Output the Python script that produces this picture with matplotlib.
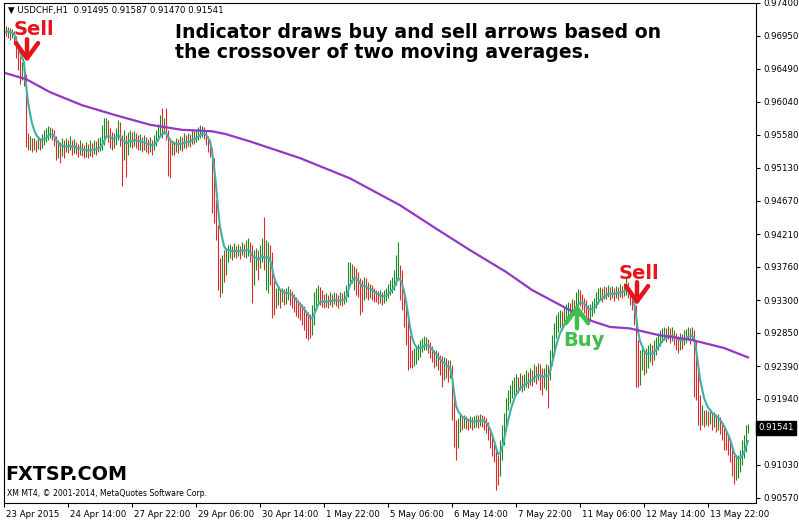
import matplotlib
matplotlib.use("Agg")
import matplotlib.pyplot as plt
import matplotlib.transforms as mtransforms
import numpy as np
import pandas as pd

# USDCHF H1 bars, 23 Apr - 14 May 2015
first_open = 0.9703
closes = [
    0.9700, 0.9703, 0.9697, 0.9698, 0.9692, 0.9672, 0.9661, 0.9647, 0.9650, 0.9639,
    0.9551, 0.9544, 0.9548, 0.9540, 0.9544, 0.9541, 0.9547, 0.9543, 0.9551, 0.9554,
    0.9558, 0.9562, 0.9565, 0.9560, 0.9551, 0.9537, 0.9541, 0.9533, 0.9544, 0.9537,
    0.9544, 0.9540, 0.9547, 0.9537, 0.9543, 0.9538, 0.9534, 0.9541, 0.9537, 0.9533,
    0.9537, 0.9534, 0.9540, 0.9536, 0.9541, 0.9538, 0.9543, 0.9544, 0.9551, 0.9562,
    0.9572, 0.9558, 0.9554, 0.9547, 0.9551, 0.9558, 0.9567, 0.9551, 0.9537, 0.9548,
    0.9537, 0.9551, 0.9555, 0.9548, 0.9554, 0.9551, 0.9547, 0.9549, 0.9544, 0.9548,
    0.9544, 0.9541, 0.9545, 0.9540, 0.9548, 0.9554, 0.9560, 0.9567, 0.9565, 0.9570,
    0.9558, 0.9544, 0.9537, 0.9543, 0.9540, 0.9545, 0.9543, 0.9548, 0.9545, 0.9551,
    0.9548, 0.9552, 0.9549, 0.9555, 0.9554, 0.9558, 0.9560, 0.9563, 0.9565, 0.9560,
    0.9554, 0.9544, 0.9537, 0.9502, 0.9461, 0.9427, 0.9378, 0.9365, 0.9382, 0.9374,
    0.9388, 0.9396, 0.9399, 0.9394, 0.9400, 0.9396, 0.9399, 0.9395, 0.9402, 0.9398,
    0.9399, 0.9402, 0.9392, 0.9378, 0.9382, 0.9388, 0.9381, 0.9392, 0.9399, 0.9382,
    0.9388, 0.9392, 0.9382, 0.9344, 0.9330, 0.9334, 0.9337, 0.9333, 0.9338, 0.9336,
    0.9337, 0.9340, 0.9336, 0.9333, 0.9327, 0.9323, 0.9319, 0.9316, 0.9313, 0.9309,
    0.9305, 0.9300, 0.9296, 0.9302, 0.9323, 0.9333, 0.9341, 0.9336, 0.9330, 0.9327,
    0.9330, 0.9327, 0.9331, 0.9329, 0.9333, 0.9330, 0.9327, 0.9331, 0.9330, 0.9333,
    0.9337, 0.9365, 0.9374, 0.9369, 0.9371, 0.9360, 0.9351, 0.9344, 0.9337, 0.9351,
    0.9347, 0.9341, 0.9344, 0.9340, 0.9337, 0.9336, 0.9333, 0.9334, 0.9331, 0.9336,
    0.9338, 0.9344, 0.9347, 0.9351, 0.9358, 0.9369, 0.9374, 0.9358, 0.9337, 0.9316,
    0.9296, 0.9268, 0.9247, 0.9244, 0.9250, 0.9254, 0.9258, 0.9264, 0.9268, 0.9271,
    0.9272, 0.9267, 0.9261, 0.9254, 0.9247, 0.9250, 0.9244, 0.9240, 0.9236, 0.9239,
    0.9236, 0.9231, 0.9236, 0.9192, 0.9151, 0.9137, 0.9158, 0.9164, 0.9160, 0.9164,
    0.9162, 0.9159, 0.9163, 0.9160, 0.9162, 0.9164, 0.9163, 0.9166, 0.9164, 0.9162,
    0.9158, 0.9148, 0.9137, 0.9126, 0.9116, 0.9102, 0.9095, 0.9123, 0.9144, 0.9164,
    0.9185, 0.9195, 0.9203, 0.9209, 0.9213, 0.9217, 0.9213, 0.9220, 0.9215, 0.9218,
    0.9222, 0.9220, 0.9225, 0.9222, 0.9231, 0.9227, 0.9233, 0.9225, 0.9220, 0.9224,
    0.9231, 0.9222, 0.9247, 0.9268, 0.9286, 0.9296, 0.9300, 0.9305, 0.9302, 0.9309,
    0.9313, 0.9319, 0.9316, 0.9323, 0.9319, 0.9330, 0.9337, 0.9333, 0.9326, 0.9322,
    0.9316, 0.9309, 0.9313, 0.9319, 0.9323, 0.9330, 0.9336, 0.9340, 0.9337, 0.9341,
    0.9340, 0.9344, 0.9338, 0.9341, 0.9337, 0.9342, 0.9340, 0.9344, 0.9341, 0.9345,
    0.9347, 0.9341, 0.9333, 0.9326, 0.9309, 0.9261, 0.9233, 0.9240, 0.9250, 0.9244,
    0.9247, 0.9254, 0.9258, 0.9254, 0.9264, 0.9268, 0.9275, 0.9279, 0.9282, 0.9284,
    0.9282, 0.9286, 0.9280, 0.9283, 0.9278, 0.9273, 0.9269, 0.9275, 0.9272, 0.9278,
    0.9282, 0.9286, 0.9280, 0.9284, 0.9268, 0.9227, 0.9192, 0.9167, 0.9175, 0.9164,
    0.9170, 0.9167, 0.9171, 0.9164, 0.9167, 0.9162, 0.9164, 0.9158, 0.9151, 0.9144,
    0.9137, 0.9130, 0.9123, 0.9106, 0.9095, 0.9102, 0.9106, 0.9112, 0.9123, 0.9130,
    0.91495, 0.91541,
]
highs = [
    0.9708, 0.9707, 0.9705, 0.9704, 0.9701, 0.9694, 0.9678, 0.9667, 0.9658, 0.9656,
    0.9642, 0.9560, 0.9556, 0.9554, 0.9554, 0.9551, 0.9556, 0.9554, 0.9559, 0.9565,
    0.9567, 0.9570, 0.9569, 0.9567, 0.9565, 0.9556, 0.9551, 0.9548, 0.9554, 0.9551,
    0.9554, 0.9551, 0.9556, 0.9551, 0.9552, 0.9548, 0.9545, 0.9551, 0.9547, 0.9544,
    0.9548, 0.9545, 0.9551, 0.9547, 0.9551, 0.9549, 0.9554, 0.9555, 0.9572, 0.9581,
    0.9581, 0.9578, 0.9567, 0.9562, 0.9560, 0.9567, 0.9578, 0.9576, 0.9558, 0.9565,
    0.9558, 0.9562, 0.9565, 0.9562, 0.9563, 0.9560, 0.9558, 0.9559, 0.9555, 0.9558,
    0.9555, 0.9552, 0.9555, 0.9551, 0.9558, 0.9565, 0.9573, 0.9585, 0.9595, 0.9581,
    0.9595, 0.9565, 0.9554, 0.9551, 0.9549, 0.9554, 0.9552, 0.9556, 0.9555, 0.9560,
    0.9558, 0.9560, 0.9559, 0.9565, 0.9563, 0.9566, 0.9569, 0.9572, 0.9570, 0.9569,
    0.9565, 0.9556, 0.9551, 0.9540, 0.9526, 0.9468, 0.9434, 0.9388, 0.9392, 0.9399,
    0.9402, 0.9406, 0.9407, 0.9405, 0.9409, 0.9405, 0.9407, 0.9405, 0.9410, 0.9407,
    0.9413, 0.9416, 0.9410, 0.9406, 0.9399, 0.9402, 0.9399, 0.9406, 0.9416, 0.9445,
    0.9413, 0.9410, 0.9406, 0.9396, 0.9358, 0.9347, 0.9347, 0.9344, 0.9347, 0.9345,
    0.9347, 0.9349, 0.9345, 0.9342, 0.9338, 0.9334, 0.9330, 0.9327, 0.9325, 0.9322,
    0.9316, 0.9313, 0.9311, 0.9323, 0.9341, 0.9347, 0.9351, 0.9348, 0.9344, 0.9338,
    0.9340, 0.9337, 0.9341, 0.9338, 0.9341, 0.9340, 0.9337, 0.9341, 0.9340, 0.9342,
    0.9351, 0.9382, 0.9382, 0.9380, 0.9377, 0.9374, 0.9369, 0.9360, 0.9358, 0.9362,
    0.9360, 0.9355, 0.9352, 0.9351, 0.9347, 0.9344, 0.9342, 0.9344, 0.9341, 0.9344,
    0.9347, 0.9352, 0.9358, 0.9362, 0.9371, 0.9392, 0.9410, 0.9378, 0.9371, 0.9344,
    0.9330, 0.9302, 0.9282, 0.9261, 0.9264, 0.9267, 0.9269, 0.9275, 0.9278, 0.9280,
    0.9279, 0.9276, 0.9272, 0.9267, 0.9261, 0.9261, 0.9258, 0.9254, 0.9253, 0.9251,
    0.9250, 0.9247, 0.9247, 0.9240, 0.9195, 0.9164, 0.9167, 0.9173, 0.9170, 0.9171,
    0.9170, 0.9167, 0.9170, 0.9169, 0.9170, 0.9171, 0.9171, 0.9173, 0.9171, 0.9170,
    0.9167, 0.9162, 0.9153, 0.9142, 0.9133, 0.9123, 0.9116, 0.9137, 0.9158, 0.9174,
    0.9195, 0.9206, 0.9213, 0.9220, 0.9224, 0.9228, 0.9224, 0.9229, 0.9227, 0.9228,
    0.9233, 0.9231, 0.9236, 0.9233, 0.9242, 0.9239, 0.9243, 0.9242, 0.9236, 0.9236,
    0.9242, 0.9240, 0.9261, 0.9282, 0.9298, 0.9309, 0.9313, 0.9316, 0.9315, 0.9322,
    0.9325, 0.9327, 0.9326, 0.9331, 0.9330, 0.9341, 0.9345, 0.9344, 0.9338, 0.9333,
    0.9330, 0.9323, 0.9325, 0.9329, 0.9333, 0.9341, 0.9347, 0.9348, 0.9347, 0.9349,
    0.9348, 0.9351, 0.9348, 0.9349, 0.9347, 0.9349, 0.9348, 0.9352, 0.9349, 0.9353,
    0.9362, 0.9355, 0.9347, 0.9340, 0.9333, 0.9323, 0.9275, 0.9261, 0.9264, 0.9261,
    0.9264, 0.9268, 0.9271, 0.9268, 0.9275, 0.9279, 0.9284, 0.9289, 0.9291, 0.9293,
    0.9291, 0.9294, 0.9291, 0.9293, 0.9289, 0.9284, 0.9280, 0.9284, 0.9283, 0.9289,
    0.9290, 0.9293, 0.9291, 0.9293, 0.9289, 0.9275, 0.9233, 0.9199, 0.9185, 0.9178,
    0.9178, 0.9177, 0.9178, 0.9175, 0.9175, 0.9173, 0.9173, 0.9169, 0.9162, 0.9158,
    0.9151, 0.9142, 0.9137, 0.9127, 0.9116, 0.9116, 0.9117, 0.9123, 0.9137, 0.9144,
    0.9158, 0.91587,
]
lows = [
    0.9694, 0.9692, 0.9689, 0.9692, 0.9683, 0.9664, 0.9647, 0.9628, 0.9634, 0.9625,
    0.9541, 0.9537, 0.9537, 0.9534, 0.9537, 0.9534, 0.9538, 0.9537, 0.9540, 0.9544,
    0.9548, 0.9551, 0.9554, 0.9551, 0.9543, 0.9523, 0.9526, 0.9519, 0.9529, 0.9526,
    0.9534, 0.9533, 0.9537, 0.9530, 0.9533, 0.9531, 0.9527, 0.9530, 0.9529, 0.9526,
    0.9527, 0.9526, 0.9529, 0.9527, 0.9531, 0.9530, 0.9534, 0.9536, 0.9537, 0.9544,
    0.9554, 0.9548, 0.9540, 0.9537, 0.9540, 0.9544, 0.9551, 0.9543, 0.9487, 0.9523,
    0.9500, 0.9530, 0.9541, 0.9540, 0.9543, 0.9540, 0.9537, 0.9537, 0.9534, 0.9537,
    0.9534, 0.9531, 0.9534, 0.9530, 0.9537, 0.9543, 0.9549, 0.9555, 0.9554, 0.9559,
    0.9551, 0.9501, 0.9498, 0.9530, 0.9530, 0.9534, 0.9533, 0.9537, 0.9536, 0.9540,
    0.9540, 0.9543, 0.9541, 0.9545, 0.9545, 0.9548, 0.9551, 0.9554, 0.9555, 0.9552,
    0.9544, 0.9534, 0.9527, 0.9450, 0.9436, 0.9413, 0.9344, 0.9334, 0.9340, 0.9355,
    0.9365, 0.9382, 0.9388, 0.9385, 0.9389, 0.9388, 0.9391, 0.9387, 0.9392, 0.9389,
    0.9388, 0.9391, 0.9382, 0.9326, 0.9351, 0.9371, 0.9358, 0.9374, 0.9382, 0.9371,
    0.9344, 0.9340, 0.9351, 0.9305, 0.9309, 0.9319, 0.9323, 0.9319, 0.9327, 0.9323,
    0.9325, 0.9330, 0.9323, 0.9319, 0.9313, 0.9308, 0.9305, 0.9302, 0.9296, 0.9289,
    0.9278, 0.9275, 0.9278, 0.9282, 0.9296, 0.9316, 0.9327, 0.9323, 0.9320, 0.9319,
    0.9320, 0.9319, 0.9323, 0.9320, 0.9325, 0.9322, 0.9319, 0.9323, 0.9322, 0.9325,
    0.9327, 0.9334, 0.9355, 0.9353, 0.9344, 0.9337, 0.9334, 0.9309, 0.9313, 0.9330,
    0.9333, 0.9330, 0.9333, 0.9330, 0.9327, 0.9327, 0.9325, 0.9326, 0.9323, 0.9326,
    0.9329, 0.9333, 0.9337, 0.9340, 0.9344, 0.9351, 0.9358, 0.9330, 0.9316, 0.9293,
    0.9268, 0.9233, 0.9236, 0.9236, 0.9239, 0.9242, 0.9247, 0.9251, 0.9258, 0.9261,
    0.9261, 0.9257, 0.9250, 0.9244, 0.9236, 0.9239, 0.9233, 0.9227, 0.9210, 0.9220,
    0.9222, 0.9217, 0.9222, 0.9164, 0.9127, 0.9109, 0.9126, 0.9148, 0.9151, 0.9153,
    0.9152, 0.9151, 0.9153, 0.9151, 0.9153, 0.9155, 0.9153, 0.9156, 0.9155, 0.9151,
    0.9146, 0.9137, 0.9126, 0.9115, 0.9106, 0.9068, 0.9075, 0.9088, 0.9109, 0.9130,
    0.9153, 0.9178, 0.9188, 0.9195, 0.9199, 0.9203, 0.9202, 0.9206, 0.9203, 0.9206,
    0.9210, 0.9209, 0.9213, 0.9211, 0.9217, 0.9214, 0.9220, 0.9206, 0.9199, 0.9209,
    0.9206, 0.9181, 0.9220, 0.9240, 0.9261, 0.9278, 0.9286, 0.9291, 0.9289, 0.9296,
    0.9302, 0.9307, 0.9308, 0.9311, 0.9309, 0.9316, 0.9323, 0.9322, 0.9316, 0.9312,
    0.9305, 0.9300, 0.9302, 0.9308, 0.9312, 0.9319, 0.9325, 0.9330, 0.9327, 0.9331,
    0.9331, 0.9334, 0.9330, 0.9333, 0.9329, 0.9333, 0.9330, 0.9334, 0.9333, 0.9336,
    0.9337, 0.9333, 0.9323, 0.9316, 0.9296, 0.9210, 0.9210, 0.9213, 0.9233, 0.9227,
    0.9229, 0.9236, 0.9244, 0.9240, 0.9247, 0.9254, 0.9261, 0.9267, 0.9272, 0.9275,
    0.9272, 0.9276, 0.9271, 0.9273, 0.9268, 0.9261, 0.9257, 0.9261, 0.9262, 0.9268,
    0.9271, 0.9275, 0.9269, 0.9275, 0.9196, 0.9192, 0.9158, 0.9151, 0.9158, 0.9155,
    0.9158, 0.9156, 0.9159, 0.9151, 0.9155, 0.9148, 0.9151, 0.9145, 0.9137, 0.9123,
    0.9123, 0.9116, 0.9106, 0.9088, 0.9077, 0.9082, 0.9084, 0.9093, 0.9102, 0.9112,
    0.9120, 0.91470,
]

# slow moving average (purple), sampled at bar positions
slow_idx = [0, 10, 22, 38, 55, 72, 88, 103, 110, 122, 147, 172, 197, 216, 232,
            250, 263, 280, 292, 302, 312, 326, 343, 359, 371]
slow_ma = [0.9643, 0.9635, 0.9617, 0.9599, 0.9585, 0.9572, 0.9565, 0.9563, 0.9559,
           0.9549, 0.9526, 0.9498, 0.9461, 0.9427, 0.9399, 0.9369, 0.9344, 0.9319,
           0.9302, 0.9293, 0.9291, 0.9282, 0.9275, 0.9264, 0.9251]

price_ticks = [0.97400, 0.96950, 0.96490, 0.96040, 0.95580, 0.95130, 0.94670,
               0.94210, 0.93760, 0.93300, 0.92850, 0.92390, 0.91940, 0.91485,
               0.91030, 0.90570]
time_ticks = [-1, 31, 63, 95, 127, 159, 191, 223, 255, 287, 319, 351]
time_labels = ["23 Apr 2015", "24 Apr 14:00", "27 Apr 22:00", "29 Apr 06:00",
               "30 Apr 14:00", "1 May 22:00", "5 May 06:00", "6 May 14:00",
               "7 May 22:00", "11 May 06:00", "12 May 14:00", "13 May 22:00"]
last_price = 0.91541

n = min(len(closes), len(highs), len(lows))
closes = np.array(closes[:n])
highs = np.array(highs[:n])
lows = np.array(lows[:n])
opens = np.concatenate([[first_open], closes[:-1]])
idx = np.arange(n)

UP = '#1d8a1d'
DOWN = '#e0282a'
RED = '#e8141b'
GREEN = '#3dbf4a'

fig = plt.figure(figsize=(7.99, 5.2), dpi=100)
ax = fig.add_axes([4 / 799, 17 / 520, 752 / 799, 500 / 520])

colors = np.where(closes >= opens, UP, DOWN)
ax.vlines(idx, lows, highs, colors=colors, lw=0.8, zorder=2)

fast = pd.Series(closes).ewm(span=6, adjust=False).mean()
ax.plot(idx, fast, color='#3fb0a8', lw=1.5, zorder=3)
ax.plot(slow_idx, slow_ma, color='#9436c6', lw=1.6, zorder=3)

# signal arrows
arrow = '->,head_length=0.55,head_width=0.4'
ax.annotate('', xy=(10.5, 0.96584), xytext=(10.5, 0.96900),
            arrowprops=dict(arrowstyle=arrow, color=RED, lw=3.2,
                            mutation_scale=20, shrinkA=0, shrinkB=0), zorder=6)
ax.text(14, 0.97033, 'Sell', color=RED, fontsize=14, fontweight='bold',
        ha='center', va='center', zorder=6)
ax.annotate('', xy=(285.5, 0.93245), xytext=(285.5, 0.92913),
            arrowprops=dict(arrowstyle=arrow, color=GREEN, lw=3.2,
                            mutation_scale=20, shrinkA=0, shrinkB=0), zorder=6)
ax.text(289, 0.92741, 'Buy', color=GREEN, fontsize=14, fontweight='bold',
        ha='center', va='center', zorder=6)
ax.annotate('', xy=(315.5, 0.93231), xytext=(315.5, 0.93548),
            arrowprops=dict(arrowstyle=arrow, color=RED, lw=3.2,
                            mutation_scale=20, shrinkA=0, shrinkB=0), zorder=6)
ax.text(316.3, 0.93666, 'Sell', color=RED, fontsize=14, fontweight='bold',
        ha='center', va='center', zorder=6)

ax.set_xlim(-1, 375)
ax.set_ylim(0.90501, 0.97400)

# the 0.91485 label sits under the current-price box
ax.yaxis.tick_right()
ax.set_yticks(price_ticks)
ax.set_yticklabels(['' if abs(v - 0.91485) < 1e-6 else '%.5f' % v
                    for v in price_ticks])
ax.set_xticks(time_ticks)
ax.set_xticklabels(time_labels)
ax.tick_params(axis='both', direction='out', length=3, width=0.8,
               labelsize=6.2, colors='black')
ax.tick_params(axis='y', pad=2)
ax.tick_params(axis='x', pad=2)
shift = mtransforms.ScaledTranslation(2 / 100, 0, fig.dpi_scale_trans)
for lbl in ax.get_xticklabels():
    lbl.set_horizontalalignment('left')
    lbl.set_transform(lbl.get_transform() + shift)
for sp in ax.spines.values():
    sp.set_linewidth(0.8)
    sp.set_color('black')

# current price marker
blend = mtransforms.blended_transform_factory(ax.transAxes, ax.transData)
ax.text(1.003, last_price, '%.5f' % last_price, transform=blend, color='white',
        fontsize=6.2, ha='left', va='center', clip_on=False, zorder=10,
        bbox=dict(boxstyle='square,pad=0.3', fc='black', ec='black'))

fig.text(8 / 799, 1 - 10 / 520, '\u25bc USDCHF,H1  0.91495 0.91587 0.91470 0.91541',
         fontsize=6.2, va='center', ha='left')
fig.text(175 / 799, 1 - 32 / 520, 'Indicator draws buy and sell arrows based on',
         fontsize=13.6, fontweight='bold', va='center', ha='left')
fig.text(175 / 799, 1 - 53 / 520, 'the crossover of two moving averages.',
         fontsize=13.6, fontweight='bold', va='center', ha='left')
fig.text(5 / 799, 1 - 474 / 520, 'FXTSP.COM', fontsize=13.8, fontweight='bold',
         va='center', ha='left')
fig.text(7 / 799, 1 - 494 / 520, 'XM MT4, \u00a9 2001-2014, MetaQuotes Software Corp.',
         fontsize=5.6, va='center', ha='left')

fig.savefig('out.png', dpi=100)
